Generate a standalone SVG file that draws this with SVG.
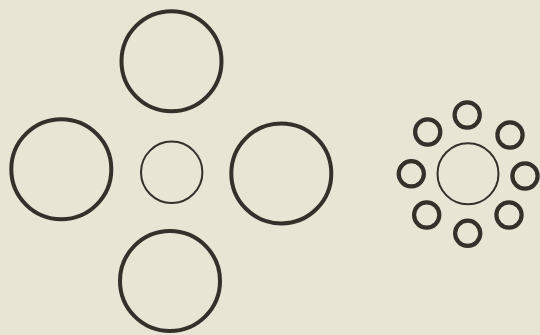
<svg xmlns="http://www.w3.org/2000/svg" width="540" height="335" viewBox="0 0 540 335">
<style>
.big{fill:none;stroke:#36302b;stroke-width:4}
.mid{fill:none;stroke:#36302b;stroke-width:2}
.sm{fill:none;stroke:#36302b;stroke-width:4.2}
</style>
<rect width="540" height="335" fill="#e8e5d5"/>
<g id="left-figure">
<circle id="top" class="big" cx="171.5" cy="61.3" r="50"/>
<circle id="left" class="big" cx="61.3" cy="169.2" r="50"/>
<circle id="right" class="big" cx="281.3" cy="173.4" r="50"/>
<circle id="bottom" class="big" cx="170" cy="281" r="50"/>
<circle id="center-left" class="mid" cx="171.7" cy="172.3" r="30.7"/>
</g>
<g id="right-figure">
<circle id="center-right" class="mid" cx="468" cy="173.8" r="30.5"/>
<circle class="sm" cx="467.2" cy="115" r="12.6"/>
<circle class="sm" cx="427.7" cy="132" r="12.6"/>
<circle class="sm" cx="510" cy="135" r="12.6"/>
<circle class="sm" cx="411.3" cy="173.8" r="12.6"/>
<circle class="sm" cx="525" cy="176" r="12.6"/>
<circle class="sm" cx="426.7" cy="215" r="12.6"/>
<circle class="sm" cx="467.7" cy="233.3" r="12.6"/>
<circle class="sm" cx="509" cy="215" r="12.6"/>
</g>
</svg>
